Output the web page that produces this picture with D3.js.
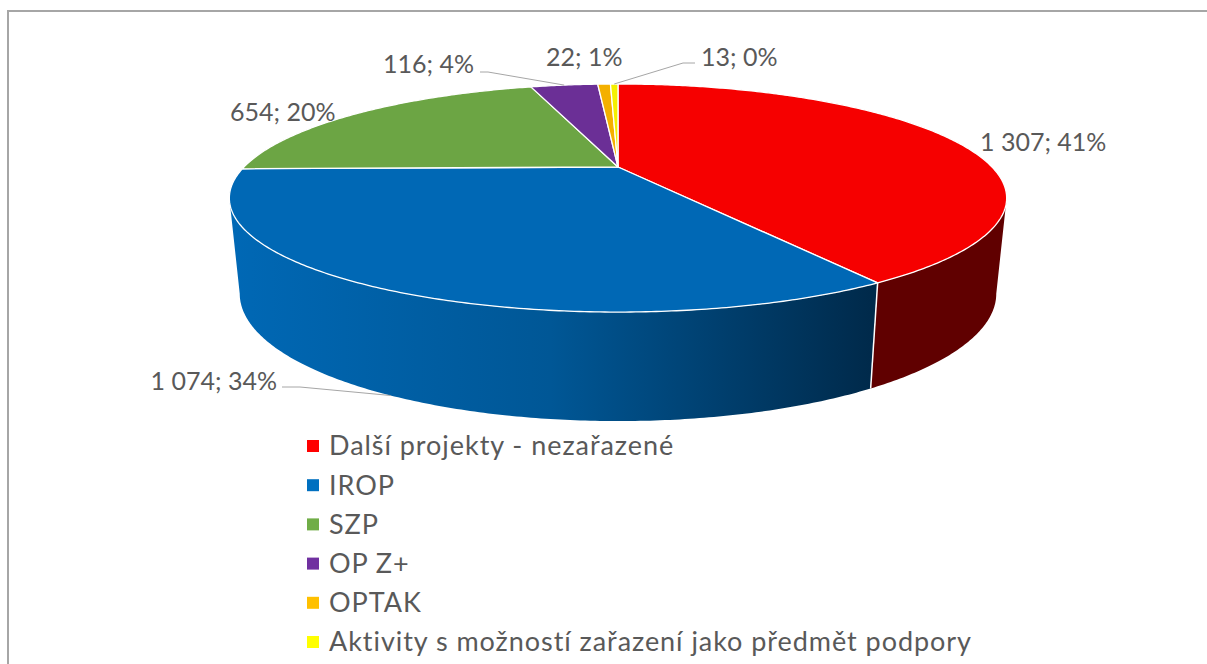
<!DOCTYPE html>
<html>
<head>
<meta charset="utf-8">
<script src="https://d3js.org/d3.v7.min.js"></script>
<style>
  body { margin: 0; background: #fff; }
  svg { display: block; }
  text { font-family: Lato, "Open Sans", sans-serif; fill: #595959; }
</style>
</head>
<body>
<svg id="canvas"></svg>
<script>
const categories = [
  "Další projekty - nezařazené",
  "IROP",
  "SZP",
  "OP Z+",
  "OPTAK",
  "Aktivity s možností zařazení jako předmět podpory",
];
const values = [1307, 1074, 654, 116, 22, 13];
const valueLabels = ["1 307", "1 074", "654", "116", "22", "13"];
const percentLabels = ["41%", "34%", "20%", "4%", "1%", "0%"];
const topColors = ["#f60000", "#0068b5", "#6ca544", "#6b2f96", "#f4b000", "#f4f000"];
const legendColors = ["#ff0000", "#0070c0", "#70ad47", "#7030a0", "#ffc000", "#ffff00"];

function getChartConfig() {
  let canvasWidth = 1207,
    canvasHeight = 664;

  let svg = d3.select("#canvas");
  svg.attr("width", canvasWidth);
  svg.attr("height", canvasHeight);

  // the pie is tilted in perspective, so each rim is a projected circle
  let topRim = { cx: 618, cy: 167, a: 374, b: 105.6, k: 0.272 };
  let bottomRim = { cx: 618, cy: 259, a: 364, b: 118, k: 0.272 };

  // label anchors, in the same order as the values
  let labelPos = [
    { x: 980, y: 142, end: "start" },
    { x: 277, y: 381, end: "end" },
    { x: 230, y: 112, end: "start" },
    { x: 474, y: 64, end: "end" },
    { x: 546, y: 57, end: "start" },
    { x: 701, y: 57, end: "start" },
  ];

  return { canvasWidth, canvasHeight, svg, topRim, bottomRim, labelPos };
}

function project(rim, angle) {
  let u = Math.sin(angle),
    v = Math.cos(angle);
  let w = 1 + rim.k * v;
  return [rim.cx + (rim.a * u) / w, rim.cy - (rim.b * v) / w];
}

function rimPoints(rim, start, end) {
  let n = Math.max(2, Math.ceil(Math.abs(end - start) / 0.01));
  return d3.range(n + 1).map((i) => project(rim, start + ((end - start) * i) / n));
}

function drawFrame(config) {
  let { svg, canvasWidth, canvasHeight } = config;
  svg
    .append("path")
    .attr("fill", "none")
    .attr("stroke", "#a6a6a6")
    .attr("stroke-width", 2)
    .attr("d", `M8,${canvasHeight}V11H${canvasWidth}`);
}

function drawWalls(arcs, config) {
  let { svg, topRim, bottomRim } = config;
  let line = d3.line();
  let rightTangent = Math.acos(-topRim.k);
  let leftTangent = 2 * Math.PI - rightTangent;

  let defs = svg.append("defs");
  let grad = defs
    .append("linearGradient")
    .attr("id", "blue-wall")
    .attr("gradientUnits", "userSpaceOnUse")
    .attr("x1", 231)
    .attr("x2", 870)
    .attr("y1", 0)
    .attr("y2", 0);
  grad.append("stop").attr("offset", 0).attr("stop-color", "#0068b5");
  grad.append("stop").attr("offset", 0.5).attr("stop-color", "#005796");
  grad.append("stop").attr("offset", 1).attr("stop-color", "#002a4b");

  let walls = [
    { start: rightTangent, end: arcs[0].endAngle, fill: "#600000" },
    { start: arcs[1].startAngle, end: leftTangent, fill: "url(#blue-wall)" },
  ];

  walls.forEach((d) => {
    let pts = rimPoints(topRim, d.start, d.end).concat(
      rimPoints(bottomRim, d.end, d.start)
    );
    svg
      .append("path")
      .attr("fill", d.fill)
      .attr("d", line(pts) + "Z");
  });

  // white seam where red and blue meet on the wall
  svg
    .append("path")
    .attr("stroke", "#fff")
    .attr("stroke-width", 1.5)
    .attr(
      "d",
      line([project(topRim, arcs[0].endAngle), project(bottomRim, arcs[0].endAngle)])
    );
}

function drawTop(arcs, config) {
  let { svg, topRim } = config;
  let line = d3.line();

  svg
    .selectAll(".slice")
    .data(arcs)
    .enter()
    .append("path")
    .attr("class", "slice")
    .attr("fill", (d, i) => topColors[i])
    .attr("stroke", "#fff")
    .attr("stroke-width", 1.3)
    .attr("stroke-linejoin", "round")
    .attr("d", (d) => {
      let pts = [[topRim.cx, topRim.cy]].concat(
        rimPoints(topRim, d.startAngle, d.endAngle)
      );
      return line(pts) + "Z";
    });
}

function drawLabels(arcs, config) {
  let { svg, topRim, bottomRim, labelPos } = config;
  let line = d3.line();

  // leaders only for the labels that sit away from their slice
  let leaders = [
    { i: 1, rim: bottomRim, from: [282, 387], elbow: [300, 387] },
    { i: 3, rim: topRim, from: [480, 72], elbow: [488, 72] },
    { i: 5, rim: topRim, from: [695, 63], elbow: [683, 63] },
  ];

  leaders.forEach((d) => {
    let mid = (arcs[d.i].startAngle + arcs[d.i].endAngle) / 2;
    svg
      .append("path")
      .attr("fill", "none")
      .attr("stroke", "#a6a6a6")
      .attr("stroke-width", 1)
      .attr("d", line([d.from, d.elbow, project(d.rim, mid)]));
  });

  svg
    .selectAll(".data-label")
    .data(arcs)
    .enter()
    .append("text")
    .attr("class", "data-label")
    .attr("x", (d, i) => labelPos[i].x)
    .attr("y", (d, i) => labelPos[i].y)
    .attr("dy", ".35em")
    .attr("text-anchor", (d, i) => labelPos[i].end)
    .style("font-size", "25px")
    .text((d, i) => `${valueLabels[i]}; ${percentLabels[i]}`);
}

function drawLegend() {
  let { svg } = config;
  let yScale = d3.scalePoint().domain(categories).range([446, 642]);

  let legend = svg
    .selectAll(".legend")
    .data(categories)
    .enter()
    .append("g")
    .attr("class", "legend")
    .attr("transform", (d) => `translate(307,${yScale(d)})`);

  legend
    .append("rect")
    .attr("y", -6)
    .attr("width", 12)
    .attr("height", 12)
    .attr("fill", (d, i) => legendColors[i]);

  legend
    .append("text")
    .attr("x", 22)
    .attr("dy", ".35em")
    .style("font-size", "27px")
    .style("letter-spacing", "0.95px")
    .text((d) => d);
}

const config = getChartConfig();
const arcs = d3.pie().sort(null)(values);

drawFrame(config);
drawWalls(arcs, config);
drawTop(arcs, config);
drawLabels(arcs, config);
drawLegend();
</script>
</body>
</html>
